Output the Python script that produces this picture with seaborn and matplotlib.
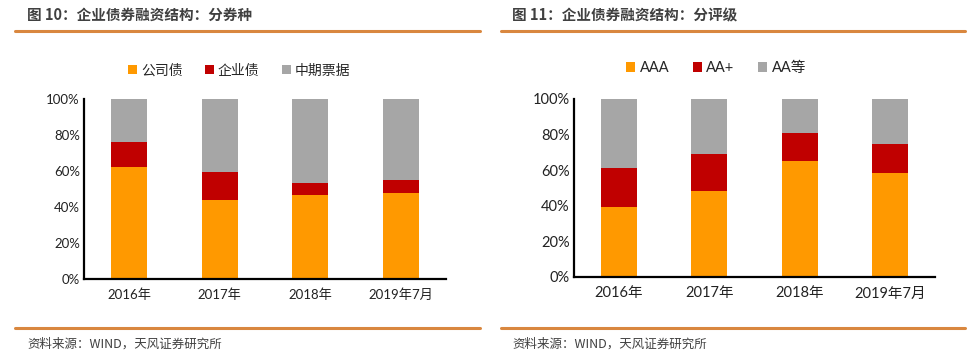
import pandas as pd
import matplotlib.pyplot as plt
import seaborn as sns
from matplotlib.patches import Patch
from matplotlib.lines import Line2D

# data (shares in %)
years = ["2016年", "2017年", "2018年", "2019年7月"]

type_names = ["公司债", "企业债", "中期票据"]
corp_bond = [62, 44, 46.5, 48]
enterprise_bond = [14, 15.5, 7, 7]

rating_names = ["AAA", "AA+", "AA等"]
aaa = [39, 48, 65, 58.5]
aa_plus = [22, 21, 16, 16]

colors = ["#FF9900", "#C00000", "#A6A6A6"]

sns.set_theme(style="white")
plt.rcParams["font.family"] = ["Lato", "Noto Sans CJK SC", "DejaVu Sans"]

fig = plt.figure(figsize=(9.7, 3.59), dpi=100)


def stacked(ax, first, second, names, tick_size, legend_anchor, legend_size):
    df = pd.DataFrame({"year": years, "first": first, "second": second})
    df["cum2"] = df["first"] + df["second"]
    df["cum3"] = 100.0
    # draw top layer first, then overlay the lower layers
    for col, c in [("cum3", colors[2]), ("cum2", colors[1]), ("first", colors[0])]:
        sns.barplot(data=df, x="year", y=col, color=c, width=0.4,
                    saturation=1, linewidth=0, ax=ax)
    ax.set_ylim(0, 100)
    ax.set_xlim(-0.5, 3.5)
    ax.set_yticks(range(0, 101, 20))
    ax.set_yticklabels([f"{v}%" for v in range(0, 101, 20)])
    ax.set_xlabel("")
    ax.set_ylabel("")
    for s in ["top", "right"]:
        ax.spines[s].set_visible(False)
    for s in ["left", "bottom"]:
        ax.spines[s].set_color("black")
        ax.spines[s].set_linewidth(1.6)
    ax.tick_params(axis="both", length=0, labelsize=tick_size,
                   labelcolor="#222222")
    ax.tick_params(axis="x", pad=7)
    ax.tick_params(axis="y", pad=3)
    handles = [Patch(facecolor=c, edgecolor="none") for c in colors]
    fig.legend(handles, names, loc="center", bbox_to_anchor=legend_anchor,
               ncol=3, frameon=False, handlelength=0.65, handleheight=0.65,
               handletextpad=0.3, columnspacing=1.6,
               prop={"size": legend_size,
                     "family": ["Lato", "Noto Sans CJK SC"]})


ax1 = fig.add_axes([84 / 970, 80 / 359, 362 / 970, 180 / 359])
stacked(ax1, corp_bond, enterprise_bond, type_names, 9.5,
        (239 / 970, 1 - 70 / 359), 10)

ax2 = fig.add_axes([574 / 970, 82.3 / 359, 361 / 970, 177.7 / 359])
stacked(ax2, aaa, aa_plus, rating_names, 10.5,
        (716 / 970, 1 - 68 / 359), 10.5)

# headers, rules and footers
rule = "#D9873F"
for x0, x1 in [(15, 480), (501, 965)]:
    for y in [30.5, 328]:
        fig.add_artist(Line2D([x0 / 970, x1 / 970], [1 - y / 359, 1 - y / 359],
                              color=rule, linewidth=2.2))

cjk = ["Noto Sans CJK SC", "DejaVu Sans"]
for x, title in [(27, "图 10：企业债券融资结构：分券种"),
                 (512, "图 11：企业债券融资结构：分评级")]:
    fig.text(x / 970, 1 - 15 / 359, title, fontsize=10.5, fontweight="bold",
             color="#404040", va="center", family=cjk)
    fig.text(x / 970, 1 - 344 / 359, "资料来源：WIND，天风证券研究所",
             fontsize=9, color="#404040", va="center", family=cjk)

fig.savefig("out.png", dpi=100, facecolor="white")
